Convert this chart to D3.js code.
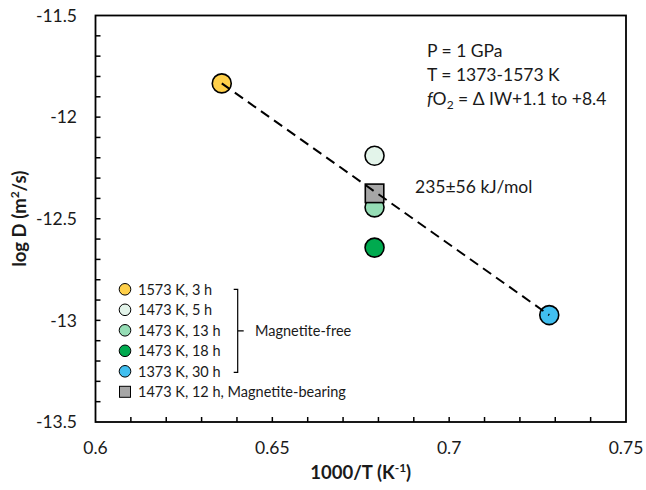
<!DOCTYPE html>
<html><head><meta charset="utf-8">
<script src="https://cdn.jsdelivr.net/npm/d3@7"></script>
<style>
html,body{margin:0;padding:0;background:#fff;}
svg{display:block;font-family:Lato,"Open Sans",sans-serif;}
</style></head>
<body>
<svg id="c" width="646" height="490"></svg>
<script>
// ---- data ----
const seriesLabels = ["1573 K, 3 h","1473 K, 5 h","1473 K, 13 h","1473 K, 18 h","1373 K, 30 h"];
const seriesColors = ["#FFD04A","#E3F4EA","#95DDB5","#00AA4F","#41BFF0"];
const invT = [0.6357, 0.6789, 0.6789, 0.6789, 0.7283];
const logD = [-11.834, -12.19, -12.444, -12.642, -12.974];
const sqLabel = "1473 K, 12 h, Magnetite-bearing";
const sqInvT = [0.6789];
const sqLogD = [-12.375];
const fitX = [0.6357, 0.7283];
const fitY = [-11.834, -12.974];
const xTicks = [0.6, 0.65, 0.7, 0.75];
const xTickLabels = ["0.6","0.65","0.7","0.75"];
const yTicks = [-11.5, -12, -12.5, -13, -13.5];
const yTickLabels = ["-11.5","-12","-12.5","-13","-13.5"];

const svg = d3.select("#c");
const L=95.5, R=626, T=15.5, B=422;
const x = d3.scaleLinear().domain([0.6,0.75]).range([L,R]);
const y = d3.scaleLinear().domain([-13.5,-11.5]).range([B,T]);

// minor ticks (inside)
const xMinor = d3.range(1,15).map(i=>0.6+i*0.01);
const yMinor = d3.range(1,20).map(i=>-13.5+i*0.1);
svg.append("g").selectAll("line").data(xMinor).join("line")
  .attr("x1",d=>x(d)).attr("x2",d=>x(d)).attr("y1",B).attr("y2",B-5)
  .attr("stroke","#000").attr("stroke-width",1.5);
svg.append("g").selectAll("line").data(yMinor).join("line")
  .attr("x1",L).attr("x2",L+5).attr("y1",d=>y(d)).attr("y2",d=>y(d))
  .attr("stroke","#000").attr("stroke-width",1.5);

// frame
svg.append("rect").attr("x",L).attr("y",T).attr("width",R-L).attr("height",B-T)
  .attr("fill","none").attr("stroke","#000").attr("stroke-width",1.8);

// tick labels
svg.append("g").selectAll("text").data(xTicks).join("text")
  .attr("x",d=>x(d)).attr("y",453.5).attr("text-anchor","middle")
  .attr("font-size",17.5).attr("fill","#1a1a1a").text((d,i)=>xTickLabels[i]);
svg.append("g").selectAll("text").data(yTicks).join("text")
  .attr("x",77).attr("y",d=>y(d)).attr("dy","0.35em").attr("text-anchor","end")
  .attr("font-size",17.5).attr("fill","#1a1a1a").text((d,i)=>yTickLabels[i]);

// axis titles
const xt = svg.append("text").attr("x",(L+R)/2).attr("y",479).attr("text-anchor","middle")
  .attr("font-size",18.5).attr("font-weight","bold").attr("fill","#1a1a1a");
xt.append("tspan").text("1000/T (K");
xt.append("tspan").attr("font-size",12).attr("dy",-7).text("-1");
xt.append("tspan").attr("dy",7).text(")");
const yt = svg.append("text").attr("transform",`translate(26,${(T+B)/2}) rotate(-90)`)
  .attr("text-anchor","middle").attr("font-size",18.5).attr("font-weight","bold").attr("fill","#1a1a1a");
yt.append("tspan").text("log D (m");
yt.append("tspan").attr("font-size",12).attr("dy",-7).text("2");
yt.append("tspan").attr("dy",7).text("/s)");

// points
const pts = invT.map((v,i)=>({x:v,y:logD[i],c:seriesColors[i]}));
svg.append("g").selectAll("circle").data(pts).join("circle")
  .attr("cx",d=>x(d.x)).attr("cy",d=>y(d.y)).attr("r",9.5)
  .attr("fill",d=>d.c).attr("stroke","#000").attr("stroke-width",1.6);
const sq = 18.5;
svg.append("g").selectAll("rect").data(sqInvT).join("rect")
  .attr("x",(d)=>x(d)-sq/2).attr("y",(d,i)=>y(sqLogD[i])-sq/2).attr("width",sq).attr("height",sq)
  .attr("fill","#A6A6A6").attr("stroke","#000").attr("stroke-width",1.6);

// fit line
svg.append("path").datum(fitX.map((v,i)=>[v,fitY[i]]))
  .attr("d",d3.line().x(d=>x(d[0])).y(d=>y(d[1])))
  .attr("fill","none").attr("stroke","#000").attr("stroke-width",2).attr("stroke-dasharray","10,6");

// annotations
const ann = svg.append("g").attr("font-size",17.5).attr("fill","#1a1a1a");
ann.append("text").attr("x",427).attr("y",57.3).text("P = 1 GPa");
ann.append("text").attr("x",427).attr("y",81).text("T = 1373-1573 K");
const f = ann.append("text").attr("x",427).attr("y",104.5);
f.append("tspan").attr("font-style","italic").text("f");
f.append("tspan").text("O");
f.append("tspan").attr("font-size",12).attr("dy",4).text("2");
f.append("tspan").attr("dy",-4).text(" = Δ IW+1.1 to +8.4");
svg.append("text").attr("x",415).attr("y",193).attr("font-size",17.5).attr("fill","#1a1a1a").text("235±56 kJ/mol");

// legend
const lg = svg.append("g").attr("font-size",14.5).attr("fill","#1a1a1a");
const ly0 = 289.3, lstep = 20.5;
lg.selectAll("circle").data(seriesLabels).join("circle")
  .attr("cx",125).attr("cy",(d,i)=>ly0+i*lstep).attr("r",5.8)
  .attr("fill",(d,i)=>seriesColors[i]).attr("stroke","#000").attr("stroke-width",1);
lg.append("rect").attr("x",125-5.5).attr("y",ly0+5*lstep-5.5).attr("width",11).attr("height",11)
  .attr("fill","#A6A6A6").attr("stroke","#000").attr("stroke-width",1);
lg.selectAll("text.l").data(seriesLabels.concat([sqLabel])).join("text").attr("class","l")
  .attr("x",138).attr("y",(d,i)=>ly0+i*lstep).attr("dy","0.36em").text(d=>d);
// bracket
const bx = 237.7, by0 = ly0, by1 = ly0+4*lstep+1;
lg.append("path").attr("d",`M${bx-4},${by0} H${bx} V${by1} H${bx-4} M${bx},${(by0+by1)/2} H${bx+6}`)
  .attr("fill","none").attr("stroke","#000").attr("stroke-width",1.2);
lg.append("text").attr("x",255).attr("y",(by0+by1)/2).attr("dy","0.36em").text("Magnetite-free");
</script>
</body></html>
